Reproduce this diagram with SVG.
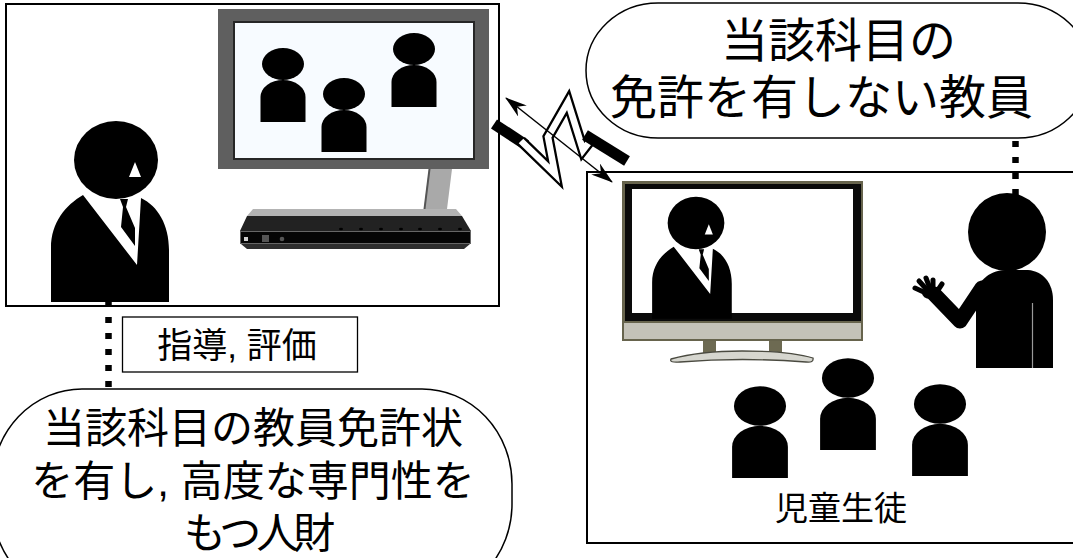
<svg xmlns="http://www.w3.org/2000/svg" xmlns:xlink="http://www.w3.org/1999/xlink" width="1073" height="558" viewBox="0 0 1073 558">
  <style>
    .frame { fill: #ffffff; stroke: #000000; stroke-width: 2; }
    .bubble { fill: #ffffff; stroke: #000000; stroke-width: 1.5; }
    .label { fill: #ffffff; stroke: #000000; stroke-width: 1.3; }
    .jp { font-family: 'Liberation Sans', 'Noto Sans CJK JP', sans-serif; fill: #000000; }
    .dots { fill: none; stroke: #000000; stroke-width: 6.5; stroke-dasharray: 6 10; }
    .ink { fill: #000000; }
  </style>
  <defs>
    <!-- teacher in a suit, drawn in the left-panel coordinates -->
    <g id="suitPerson">
      <ellipse class="ink" cx="116" cy="160" rx="42" ry="39"/>
      <path class="ink" d="M51,302 L51,248 C51,222 66,205 83,195 L137,265 L141,198 C158,206 169,225 169,250 L169,302 Z"/>
      <polygon fill="#ffffff" points="129,177 141,177 135,162"/>
      <polygon class="ink" points="120,199 128,199 126,207 135,228 135,246 121,227 123,207"/>
    </g>
    <!-- small figure, origin at the centre of the head -->
    <g id="pupil">
      <ellipse class="ink" cx="0" cy="0" rx="21" ry="16"/>
      <path class="ink" d="M-22.5,58 V33 A22.5,17 0 0 1 22.5,33 V58 Z"/>
    </g>
    <marker id="head" viewBox="0 0 22 14" refX="21" refY="7" markerWidth="22" markerHeight="14" markerUnits="userSpaceOnUse" orient="auto-start-reverse">
      <path d="M0,0 L22,7 L0,14 L7,7 Z" fill="#000000"/>
    </marker>
  </defs>

  <!-- remote teacher side -->
  <g id="remote-room">
    <rect class="frame" x="6" y="4" width="493" height="302"/>
    <use xlink:href="#suitPerson"/>
    <!-- monitor -->
    <rect x="218" y="9" width="271" height="160" fill="#5f5f5f"/>
    <rect x="233" y="21" width="242" height="139" fill="#262626"/>
    <rect x="235" y="23" width="238" height="135" fill="#f7fbff"/>
    <use xlink:href="#pupil" transform="translate(283,64)"/>
    <use xlink:href="#pupil" transform="translate(344,94)"/>
    <use xlink:href="#pupil" transform="translate(414,49)"/>
    <!-- stand -->
    <polygon points="429,169 452,169 447,209 424,209" fill="#a9a9a9"/>
    <line x1="429.5" y1="169" x2="424.5" y2="209" stroke="#555555" stroke-width="2"/>
    <!-- base unit -->
    <polygon points="253,209 456,209 462,216 247,216" fill="#b3b3b3"/>
    <polygon points="247,216 462,216 471,231 240,231" fill="#222222"/>
    <rect x="240.5" y="231.5" width="230" height="12" fill="#050505" stroke="#666666" stroke-width="1"/>
    <polygon points="241,244 470,244 464,249 247,249" fill="#2e2e2e"/>
    <rect x="244" y="237" width="4" height="4" fill="#d0d0d0"/>
    <rect x="262" y="235" width="7" height="7" fill="#555555"/>
    <circle cx="282" cy="239" r="2.3" fill="#555555"/>
    <g fill="#000000">
      <ellipse cx="341" cy="229" rx="2" ry="1.2"/>
      <ellipse cx="361" cy="229" rx="2" ry="1.2"/>
      <ellipse cx="381" cy="229" rx="2" ry="1.2"/>
      <ellipse cx="401" cy="229" rx="2" ry="1.2"/>
      <ellipse cx="420" cy="229" rx="2" ry="1.2"/>
      <ellipse cx="440" cy="229" rx="2" ry="1.2"/>
      <ellipse cx="460" cy="229" rx="2" ry="1.2"/>
    </g>
  </g>

  <!-- classroom side -->
  <g id="classroom">
    <rect class="frame" x="587" y="172" width="500" height="371"/>
    <!-- television -->
    <rect x="622" y="181" width="241" height="160" fill="#67644d"/>
    <rect x="625" y="184" width="236" height="137" fill="#0a0a0a"/>
    <rect x="632" y="189" width="221" height="124" fill="#ffffff"/>
    <use xlink:href="#suitPerson" transform="translate(617.7,115) scale(0.675)"/>
    <rect x="624" y="323" width="237" height="16" fill="#c4c2b8"/>
    <rect x="703" y="341" width="13" height="12" fill="#6d6a52"/>
    <rect x="769" y="341" width="13" height="12" fill="#6d6a52"/>
    <path d="M671,359 Q700,351 742,351 Q790,351 813,358 Q814,363 806,362 Q742,357 680,362 Q669,363 671,359 Z" fill="#d6d6cf" stroke="#4a4a40" stroke-width="1.3"/>
    <!-- local teacher waving -->
    <polyline points="934,294 960,321 982,288" fill="none" stroke="#000000" stroke-width="15" stroke-linejoin="round" stroke-linecap="round"/>
    <g stroke="#000000" stroke-width="5" stroke-linecap="round">
      <line x1="928" y1="294" x2="915" y2="288"/>
      <line x1="929" y1="292" x2="919" y2="281"/>
      <line x1="931" y1="291" x2="926" y2="278"/>
      <line x1="933" y1="292" x2="933" y2="280"/>
      <line x1="936" y1="293" x2="942" y2="284"/>
    </g>
    <ellipse class="ink" cx="930" cy="293" rx="8" ry="6"/>
    <circle class="ink" cx="1007" cy="232" r="39"/>
    <path class="ink" d="M976,368 V298 C976,282 988,271 1005,270 L1028,270 C1043,271 1053,283 1053,300 V368 Z"/>
    <line x1="1032.5" y1="303" x2="1032.5" y2="368" stroke="#9a9a9a" stroke-width="1.2"/>
    <!-- pupils -->
    <use xlink:href="#pupil" transform="translate(760,406) scale(1.24)"/>
    <use xlink:href="#pupil" transform="translate(848,378) scale(1.24)"/>
    <use xlink:href="#pupil" transform="translate(940,404) scale(1.24)"/>
    <text class="jp" x="841" y="520" font-size="33" text-anchor="middle">児童生徒</text>
  </g>

  <!-- speech bubbles and label -->
  <g id="local-teacher-bubble">
    <rect class="bubble" x="586" y="3" width="504" height="135" rx="72" ry="67.5"/>
    <text class="jp" x="721" y="57" font-size="47">当該科目の</text>
    <text class="jp" x="610" y="114" font-size="47">免許を有しない教員</text>
  </g>
  <g id="remote-teacher-bubble">
    <rect class="bubble" x="-8" y="389" width="520" height="210" rx="90" ry="95"/>
    <text class="jp" x="253" y="443" font-size="42" text-anchor="middle">当該科目の教員免許状</text>
    <text class="jp" x="253" y="496" font-size="42" text-anchor="middle">を有し, 高度な専門性を</text>
    <text class="jp" x="257" y="548" font-size="42" text-anchor="middle" letter-spacing="-5">もつ人財</text>
  </g>
  <g id="role-label">
    <rect class="label" x="122.5" y="317" width="235" height="55"/>
    <text class="jp" x="237" y="358" font-size="35" text-anchor="middle">指導, 評価</text>
  </g>

  <!-- connectors -->
  <g id="connectors">
    <line class="dots" x1="108.5" y1="301" x2="108.5" y2="389"/>
    <line class="dots" x1="1015.5" y1="141" x2="1015.5" y2="197"/>
    <!-- wireless link: zigzag band with solid ends -->
    <line x1="494" y1="124" x2="526" y2="145" stroke="#000000" stroke-width="11"/>
    <polyline points="521,141 555,174 548,137 568,102 583,150 590,141" fill="none" stroke="#000000" stroke-width="11" stroke-linejoin="miter" stroke-miterlimit="20"/>
    <polyline points="521,141 555,174 548,137 568,102 583,150 590,141" fill="none" stroke="#ffffff" stroke-width="6.5" stroke-linejoin="miter" stroke-miterlimit="20"/>
    <line x1="585" y1="135" x2="627" y2="161" stroke="#000000" stroke-width="11"/>
    <line x1="506" y1="98" x2="612" y2="182" stroke="#000000" stroke-width="1.5" marker-start="url(#head)" marker-end="url(#head)"/>
  </g>
</svg>
